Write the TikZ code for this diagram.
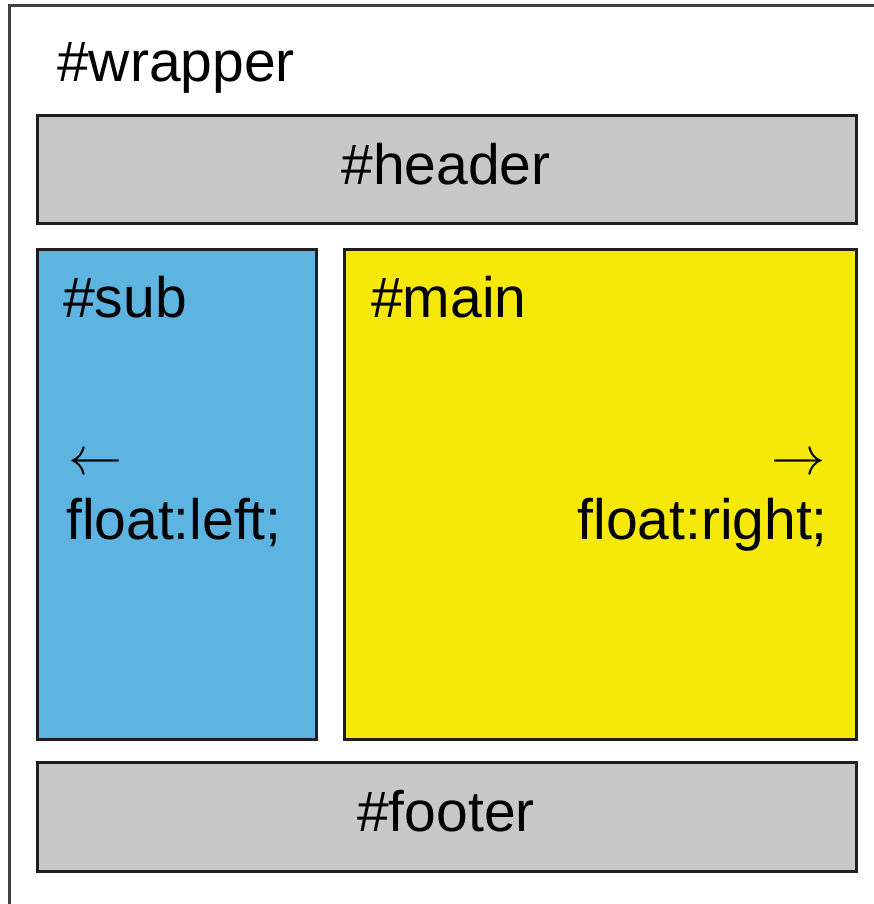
\documentclass[tikz,border=0pt]{standalone}
\usepackage{fontspec}
\usepackage{graphicx}
\setmainfont{Liberation Sans}
\definecolor{boxgray}{RGB}{200,200,200}
\definecolor{subblue}{RGB}{93,180,224}
\definecolor{mainyellow}{RGB}{246,233,10}
\definecolor{edge}{RGB}{30,30,30}
\begin{document}
\begin{tikzpicture}[x=1pt,y=1pt,
  blk/.style={draw=edge,line width=3pt},
  lbl/.style={inner sep=0pt,font=\fontsize{57}{60}\selectfont},
  arr/.style={inner sep=0pt}]
\useasboundingbox (0,0) rectangle (873,904);
\fill[white] (0,0) rectangle (873,904);
\draw[draw=edge!85,line width=3pt] (9,-20) -- (9,898) -- (900,898);
\node[lbl,anchor=base west] (wrapper) at (57,822) {\#wrapper};
\filldraw[blk,fill=boxgray] (37,680) rectangle (856,788);
\node[lbl,anchor=base] (header) at (446,719) {\#header};
\filldraw[blk,fill=subblue] (37,164) rectangle (316,654);
\filldraw[blk,fill=mainyellow] (344,164) rectangle (856,654);
\node[lbl,anchor=base west] (sub) at (63,586) {\#sub};
\node[lbl,anchor=base west] (main) at (371,586) {\#main};
\node[arr,anchor=west] (la) at (68,439) {\scalebox{5.4}{$\leftarrow$}};
\node[lbl,anchor=base west] (fl) at (66,364) {float:left;};
\node[arr,anchor=east] (ra) at (826,439) {\scalebox{5.4}{$\rightarrow$}};
\node[lbl,anchor=base east] (fr) at (828,364) {float:right;};
\filldraw[blk,fill=boxgray] (37,32) rectangle (856,141);
\node[lbl,anchor=base] (footer) at (446,72) {\#footer};
\end{tikzpicture}
\end{document}
